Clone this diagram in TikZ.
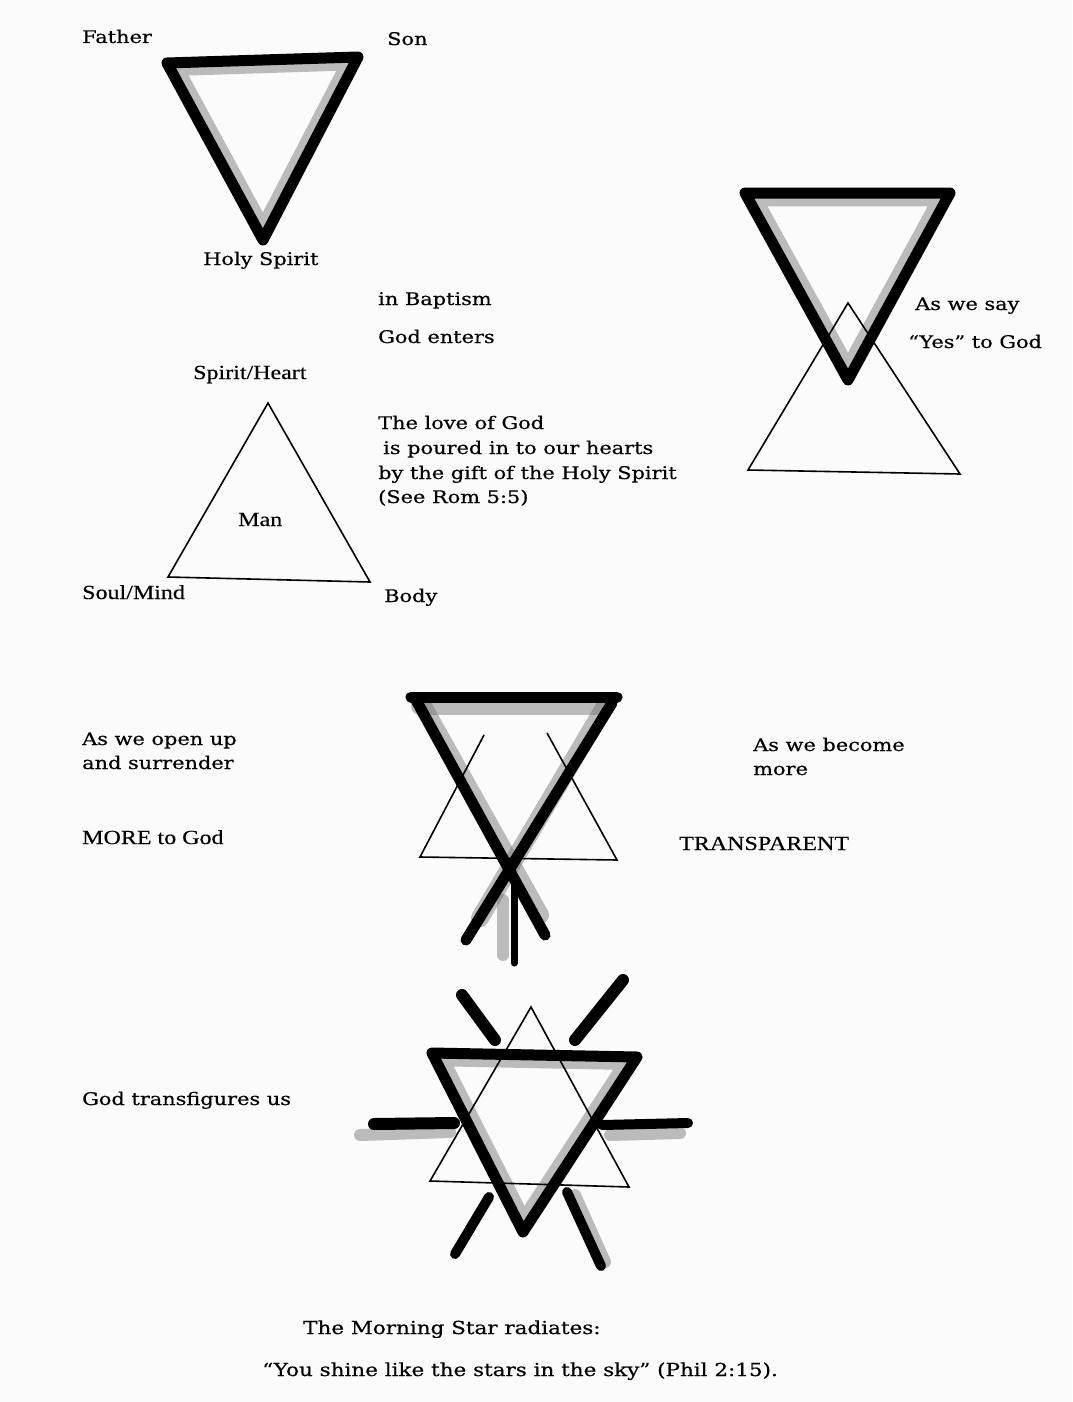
\documentclass[tikz,border=0pt]{standalone}
\usepackage{fontspec}
\setmainfont{DejaVu Serif}[FakeStretch=1.2,FakeBold=0.5]
\newfontfamily\romfont{Liberation Serif}[FakeStretch=1.2,FakeBold=0.3]
\usetikzlibrary{positioning,calc}
\definecolor{paper}{RGB}{251,251,251}
\definecolor{smudge}{RGB}{110,110,110}
\tikzset{
  lbl/.style={font=\fontsize{17.4}{22}\selectfont,inner sep=0pt,anchor=base west},
  biglbl/.style={lbl,font=\fontsize{17.9}{22}\selectfont},
  rlbl/.style={lbl,font=\romfont\fontsize{20}{24}\selectfont},
  pen/.style={line width=1.6pt,line join=miter},
  brush/.style={line width=11pt,line cap=round,line join=round},
  ray/.style={line width=12pt,line cap=round},
  smear/.style={line width=18pt,draw=smudge,opacity=0.45,line cap=round,line join=round},
}

\begin{document}
\begin{tikzpicture}[x=1pt,y=-1pt]
\useasboundingbox[fill=paper] (0,0) rectangle (1072,1402);

% ── Trinity, inverted triangle
\coordinate (fa) at (167,63);
\coordinate (so) at (358,57);
\coordinate (hs) at (263,240);
\draw[smear,scale around={0.93:(263,120)}] (167,63) -- (358,57) -- (263,240) -- cycle;
\draw[brush] (fa) -- (so) -- (hs) -- cycle;
\node[lbl] (father) at (82,43) {Father};
\node[lbl] (son) at (387,45) {Son};
\node[lbl] (holy) at (203,265) {Holy Spirit};

% ── Man, upright triangle
\coordinate (sh) at (268,403);
\coordinate (sm) at (168,577);
\coordinate (bo) at (370,582);
\draw[pen] (sh) -- (sm) -- (bo) -- cycle;
\node[rlbl] (spirit) at (193,379) {Spirit/Heart};
\node[rlbl] (man) at (238,526) {Man};
\node[rlbl] (soul) at (82,599) {Soul/Mind};
\node[lbl] (body) at (384,602) {Body};

\node[lbl] (bapt) at (378,305) {in Baptism};
\node[lbl] (enters) at (378,343) {God enters};
\node[lbl] (love1) at (378,429) {The love of God};
\node[lbl] (love2) at (383,454) {is poured in to our hearts};
\node[lbl] (love3) at (378,479) {by the gift of the Holy Spirit};
\node[lbl] (love4) at (378,503) {(See Rom 5:5)};

% ── God meets man: "Yes"
\coordinate (g1) at (745,193);
\coordinate (g2) at (950,193);
\coordinate (g3) at (848,380);
\draw[smear,scale around={0.93:(848,255)}] (745,193) -- (950,193) -- (848,380) -- cycle;
\draw[brush] (g1) -- (g2) -- (g3) -- cycle;
\coordinate (m1) at (848,303);
\coordinate (m2) at (748,470);
\coordinate (m3) at (960,474);
\draw[pen] (m1) -- (m2) -- (m3) -- cycle;
\node[lbl] (say) at (915,310) {As we say};
\node[lbl] (yes) at (908,348) {“Yes” to God};

% ── Opening up, transparent
\coordinate (t1) at (411,697);
\coordinate (t2) at (617,697);
\coordinate (t3) at (545,935);
\coordinate (t4) at (466,940);
\coordinate (t5) at (514,880);
\coordinate (t6) at (514,963);
\draw[smear] (424,708) -- (540,915);
\draw[smear] (604,708) -- (480,918);
\draw[smear] (420,706) -- (606,706);
\draw[smear,line width=12pt] (503,900) -- (503,955);
\draw[brush] (t1) -- (t2);
\draw[brush] (416,700) -- (t3);
\draw[brush] (612,703) -- (t4);
\draw[brush,line width=7pt] (t5) -- (t6);
\coordinate (n1) at (484,735);
\coordinate (n2) at (420,857);
\coordinate (n3) at (617,860);
\coordinate (n4) at (547,733);
\draw[pen] (n1) -- (n2) -- (n3) -- (n4);
\node[lbl] (open1) at (82,745) {As we open up};
\node[lbl] (open2) at (82,769) {and surrender};
\node[rlbl] (more) at (82,844) {MORE to God};
\node[lbl] (become1) at (753,751) {As we become};
\node[lbl] (become2) at (753,775) {more};
\node[rlbl] (transp) at (679,850) {TRANSPARENT};

% ── Morning Star
\coordinate (s1) at (531,1007);
\coordinate (s2) at (430,1181);
\coordinate (s3) at (629,1187);
\coordinate (d1) at (432,1053);
\coordinate (d2) at (637,1057);
\coordinate (d3) at (523,1232);
\draw[smear,scale around={0.93:(531,1114)}] (432,1053) -- (637,1057) -- (523,1232) -- cycle;
\draw[smear,line width=12pt] (360,1135) -- (450,1132);
\draw[smear,line width=12pt] (610,1135) -- (680,1133);
\draw[smear,line width=12pt] (575,1195) -- (605,1262);
\draw[brush] (d1) -- (d2) -- (d3) -- cycle;
\draw[pen] (s1) -- (s2) -- (s3) -- cycle;
\draw[ray] (462,995) -- (495,1040);
\draw[ray] (623,980) -- (575,1040);
\draw[ray] (374,1124) -- (454,1123);
\draw[ray,line width=10pt] (602,1125) -- (688,1123);
\draw[ray,line width=10pt] (489,1197) -- (455,1254);
\draw[ray,line width=10pt] (567,1192) -- (601,1266);
\node[lbl] (transf) at (82,1105) {God transfigures us};
\node[biglbl] (radiate) at (303,1334) {The Morning Star radiates:};
\node[biglbl] (shine) at (262,1376) {“You shine like the stars in the sky” (Phil 2:15).};

\end{tikzpicture}
\end{document}
